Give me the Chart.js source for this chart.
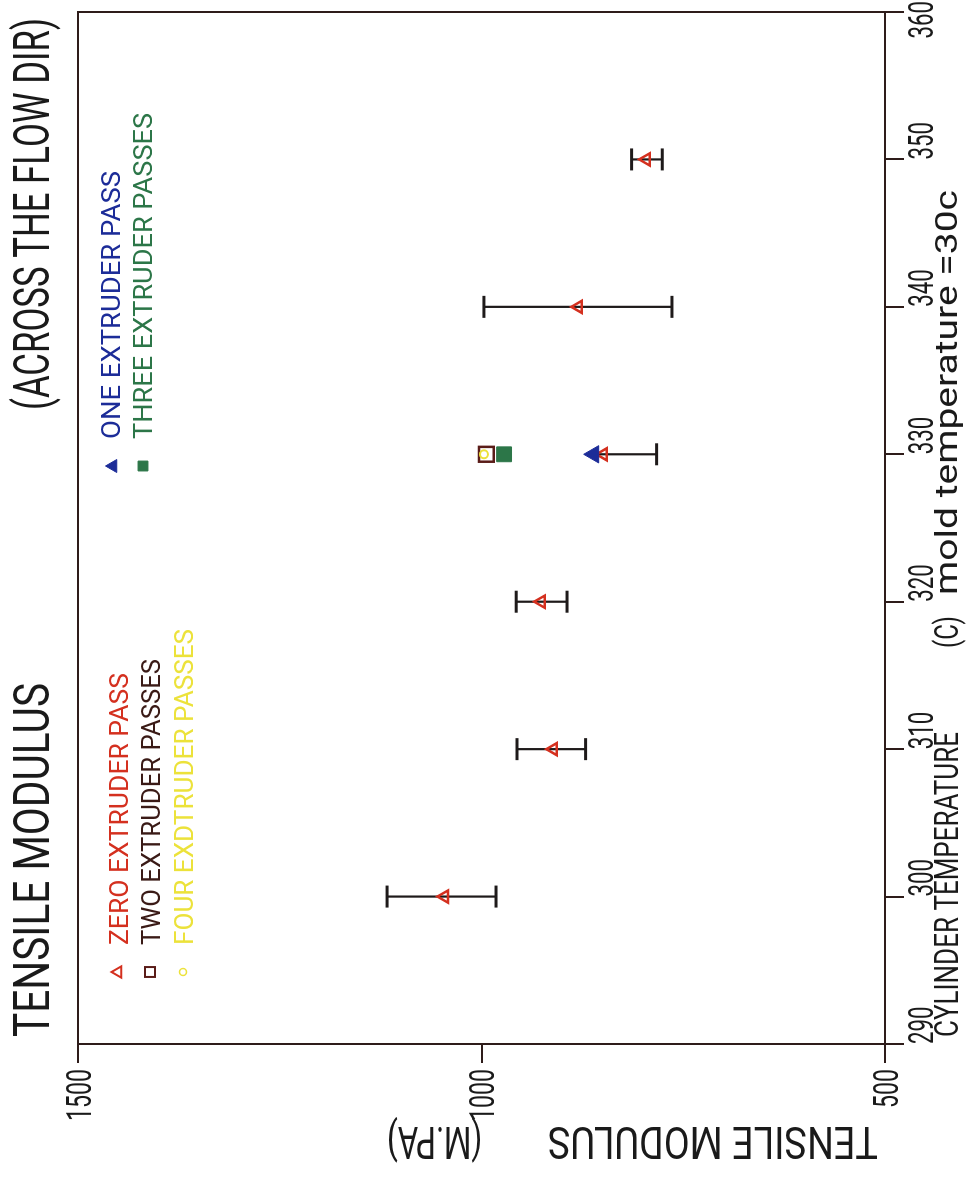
<!DOCTYPE html>
<html>
<head>
<meta charset="utf-8">
<script src="https://cdn.jsdelivr.net/npm/chart.js@4.4.1/dist/chart.umd.min.js"></script>
<style>
  html, body { margin: 0; padding: 0; background: #fff; overflow: hidden; }
  /* the chart is drawn upright and then turned a quarter turn, like the scanned page */
  #wrap { position: absolute; left: 0; top: 0; width: 1191px; height: 976px;
          transform-origin: 0 0; transform: translateY(1191px) rotate(-90deg); }
</style>
</head>
<body>
<div id="wrap"><canvas id="chart" width="1191" height="976"></canvas></div>
<script>
// cylinder temperature (C)
const temps = [300, 310, 320, 330, 340, 350];
// zero extruder pass, tensile modulus (M.PA): mean and error bar ends
const zeroMean = [1046, 911, 926, 849, 880, 796];
const zeroHigh = [1117, 956, 957, 861, 997, 814];
const zeroLow  = [982, 871, 894, 783, 764, 776];
// the other passes were only run at 330
const passTemp = [330];
const oneVal   = [861];
const twoVal   = [994];
const threeVal = [972];
const fourVal  = [997];

const xTicks = [290, 300, 310, 320, 330, 340, 350, 360];
const yTicks = [500, 1000, 1500];

const seriesNames = ['ZERO EXTRUDER PASS', 'ONE EXTRUDER PASS', 'TWO EXTRUDER PASSES',
                     'THREE EXTRUDER PASSES', 'FOUR EXDTRUDER PASSES'];

const axisColor = '#2e1c1a';
const INK = '#1a1a1a';
const RED = '#d4301f', BLUE = '#1c2c98', MAROON = '#5a1c18', GREEN = '#2c7648', YELLOW = '#ece23a';

const errData = [];
temps.forEach((t, i) => {
  errData.push({x: t, y: zeroHigh[i]}, {x: t, y: zeroLow[i]}, {x: t, y: null});
});

// plotter-like text: sized by cap height, squeezed to a given length
function drawLabel(ctx, text, x, y, cap, width, color, align, rot) {
  ctx.save();
  ctx.font = (cap / 0.711).toFixed(1) + 'px Roboto, "Liberation Sans", Arial, sans-serif';
  const natural = ctx.measureText(text).width;
  ctx.translate(x, y);
  if (rot) ctx.rotate(rot);
  ctx.scale(width / natural, 1);
  ctx.fillStyle = color;
  ctx.textAlign = align || 'left';
  ctx.textBaseline = 'alphabetic';
  ctx.fillText(text, 0, cap / 2);
  ctx.restore();
}

function marker(ctx, style, r, x, y, stroke, fill, bw) {
  ctx.save();
  ctx.strokeStyle = stroke;
  ctx.fillStyle = fill;
  ctx.lineWidth = bw;
  Chart.helpers.drawPoint(ctx, {pointStyle: style, radius: r, rotation: 0, borderWidth: bw}, x, y);
  ctx.restore();
}

const boxPlugin = {
  id: 'box',
  beforeDatasetsDraw(chart) {
    const a = chart.chartArea, ctx = chart.ctx;
    ctx.save();
    ctx.strokeStyle = axisColor;
    ctx.lineWidth = 2;
    ctx.strokeRect(a.left, a.top, a.right - a.left, a.bottom - a.top);
    ctx.restore();
  }
};

const textPlugin = {
  id: 'texts',
  afterDraw(chart) {
    const ctx = chart.ctx, a = chart.chartArea;
    const xs = chart.scales.x, ys = chart.scales.y;
    const W = chart.width;

    // title
    drawLabel(ctx, 'TENSILE MODULUS', 154, 31, 35, 354, INK);
    drawLabel(ctx, '(ACROSS THE FLOW DIR)', 781, 31, 35, 392, INK);

    // value axis labels
    yTicks.forEach(v => {
      const s = String(v);
      drawLabel(ctx, s, a.left - 25, ys.getPixelForValue(v), 25, 13 * s.length, INK, 'right');
    });
    // temperature axis labels, starting at their tick
    xTicks.forEach(v => {
      const s = String(v), w = 12.5 * s.length;
      const px = Math.min(xs.getPixelForValue(v), W - w - 1);
      drawLabel(ctx, s, px, a.bottom + 35, 25, w, INK, 'left');
    });

    // axis titles
    drawLabel(ctx, 'CYLINDER TEMPERATURE', 154, a.bottom + 61, 24, 305, INK);
    drawLabel(ctx, '(C)', 543, a.bottom + 61, 24, 32, INK);
    drawLabel(ctx, 'mold temperature =30c', 596, a.bottom + 61, 22, 405, INK);
    drawLabel(ctx, 'TENSILE MODULUS', 48, 878, 32, 330, INK, 'left', -Math.PI / 2);
    drawLabel(ctx, '(M.PA)', 48, 482, 32, 95, INK, 'left', -Math.PI / 2);

    // legend
    marker(ctx, 'triangle', 6.5, 219, 118, RED, 'rgba(0,0,0,0)', 2);
    drawLabel(ctx, seriesNames[0], 246, 118, 19, 272, RED);
    marker(ctx, 'rect', 7, 219, 150, MAROON, 'rgba(0,0,0,0)', 2);
    drawLabel(ctx, seriesNames[2], 246, 150, 19, 286, '#3a1a16');
    marker(ctx, 'circle', 3.5, 219, 183, YELLOW, 'rgba(0,0,0,0)', 1.5);
    drawLabel(ctx, seriesNames[4], 246, 183, 19, 316, YELLOW);
    marker(ctx, 'triangle', 7.5, 725, 113, BLUE, BLUE, 1);
    drawLabel(ctx, seriesNames[1], 752, 111, 18, 268, BLUE);
    marker(ctx, 'rect', 7, 725, 143, GREEN, GREEN, 1);
    drawLabel(ctx, seriesNames[3], 752, 143, 18, 326, GREEN);
  }
};

const pts = vals => passTemp.map((t, i) => ({x: t, y: vals[i]}));

new Chart(document.getElementById('chart').getContext('2d'), {
  type: 'scatter',
  data: {
    datasets: [
      { label: seriesNames[1], data: pts(oneVal), pointStyle: 'triangle', pointRadius: 10,
        backgroundColor: BLUE, borderColor: BLUE, borderWidth: 1 },
      { label: seriesNames[0], data: temps.map((t, i) => ({x: t, y: zeroMean[i]})),
        pointStyle: 'triangle', pointRadius: 7, backgroundColor: 'rgba(0,0,0,0)',
        borderColor: RED, borderWidth: 2.5 },
      { label: seriesNames[4], data: pts(fourVal), pointStyle: 'circle', pointRadius: 4,
        backgroundColor: 'rgba(0,0,0,0)', borderColor: YELLOW, borderWidth: 2 },
      { label: seriesNames[2], data: pts(twoVal), pointStyle: 'rect', pointRadius: 10.5,
        backgroundColor: 'rgba(0,0,0,0)', borderColor: MAROON, borderWidth: 2.5 },
      { label: seriesNames[3], data: pts(threeVal), pointStyle: 'rect', pointRadius: 10.5,
        backgroundColor: GREEN, borderColor: GREEN, borderWidth: 1 },
      { label: 'error', data: errData, showLine: true, spanGaps: false,
        borderColor: '#1e1a1a', borderWidth: 2.2, pointStyle: 'line',
        pointBorderColor: '#1e1a1a', pointBorderWidth: 3,
        // the upper cap at 330 sits under the ONE marker
        pointRadius: c => {
          const p = c.raw;
          if (!p || p.y === null) return 0;
          const k = passTemp.indexOf(p.x);
          return (k >= 0 && oneVal[k] === p.y) ? 0 : 11;
        } }
    ]
  },
  options: {
    responsive: false,
    animation: false,
    events: [],
    layout: { autoPadding: false, padding: { left: 0, right: 12, top: 78, bottom: 0 } },
    plugins: { legend: { display: false }, title: { display: false }, tooltip: { enabled: false } },
    scales: {
      x: {
        type: 'linear', position: 'bottom', min: 290, max: 360,
        afterBuildTicks: s => { s.ticks = xTicks.map(v => ({value: v})); },
        afterFit: s => { s.height = 91; },
        grid: { drawOnChartArea: false, drawTicks: true, tickLength: 19, color: axisColor, lineWidth: 2 },
        border: { display: true, color: axisColor, width: 2 },
        ticks: { display: false }
      },
      y: {
        type: 'linear', position: 'left', min: 500, max: 1500,
        afterBuildTicks: s => { s.ticks = yTicks.map(v => ({value: v})); },
        afterFit: s => { s.width = 147; },
        grid: { drawOnChartArea: false, drawTicks: true, tickLength: 19, color: axisColor, lineWidth: 2 },
        border: { display: true, color: axisColor, width: 2 },
        ticks: { display: false }
      }
    }
  },
  plugins: [boxPlugin, textPlugin]
});
</script>
</body>
</html>
